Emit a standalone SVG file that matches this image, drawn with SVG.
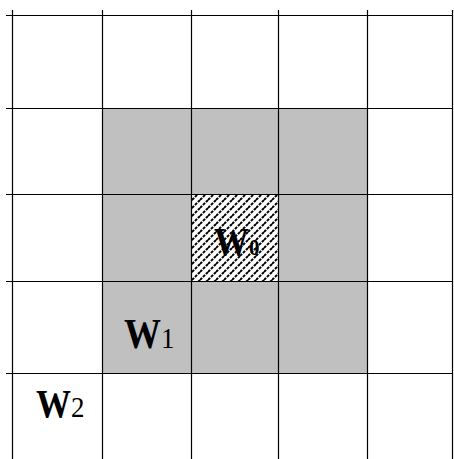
<svg xmlns="http://www.w3.org/2000/svg" width="454" height="459" viewBox="0 0 454 459">
<style>
.grid line{stroke:#000;stroke-width:1.2}
.w{font-family:"Liberation Serif","Times New Roman",serif;font-weight:bold;fill:#000}
.sub{font-weight:normal}
</style>
<defs>
<pattern id="hatch" patternUnits="userSpaceOnUse" width="8" height="8">
<rect width="8" height="8" fill="#fff"/>
<path d="M0,8 L8,0 M-2,2 L2,-2 M6,10 L10,6" stroke="#000" stroke-width="2" stroke-dasharray="3,1.2"/>
</pattern>
</defs>
<rect width="454" height="459" fill="#fff"/>
<g id="ring1">
<rect x="102" y="108" width="265" height="265" fill="#c0c0c0"/>
</g>
<g id="center">
<rect x="191" y="194" width="87" height="87" fill="url(#hatch)"/>
</g>
<g class="grid" id="connectors">
<line x1="12.5" y1="10" x2="12.5" y2="459"/>
<line x1="102.5" y1="10" x2="102.5" y2="459"/>
<line x1="191.5" y1="10" x2="191.5" y2="459"/>
<line x1="278.5" y1="10" x2="278.5" y2="459"/>
<line x1="367.5" y1="10" x2="367.5" y2="459"/>
<line x1="452.5" y1="10" x2="452.5" y2="459"/>
<line x1="6" y1="15.5" x2="453" y2="15.5"/>
<line x1="6" y1="108.5" x2="453" y2="108.5"/>
<line x1="6" y1="194.5" x2="453" y2="194.5"/>
<line x1="6" y1="281.5" x2="453" y2="281.5"/>
<line x1="6" y1="373.5" x2="453" y2="373.5"/>
</g>
<g id="label-w0"><text class="w" transform="translate(214,255) scale(1,1.12)" font-size="35">W<tspan font-size="21">0</tspan></text></g>
<g id="label-w1"><text class="w" transform="translate(124,348) scale(1,1.12)" font-size="37">W<tspan class="sub" font-size="27">1</tspan></text></g>
<g id="label-w2"><text class="w" transform="translate(36,417) scale(1,1.12)" font-size="35">W<tspan class="sub" font-size="27">2</tspan></text></g>
</svg>
